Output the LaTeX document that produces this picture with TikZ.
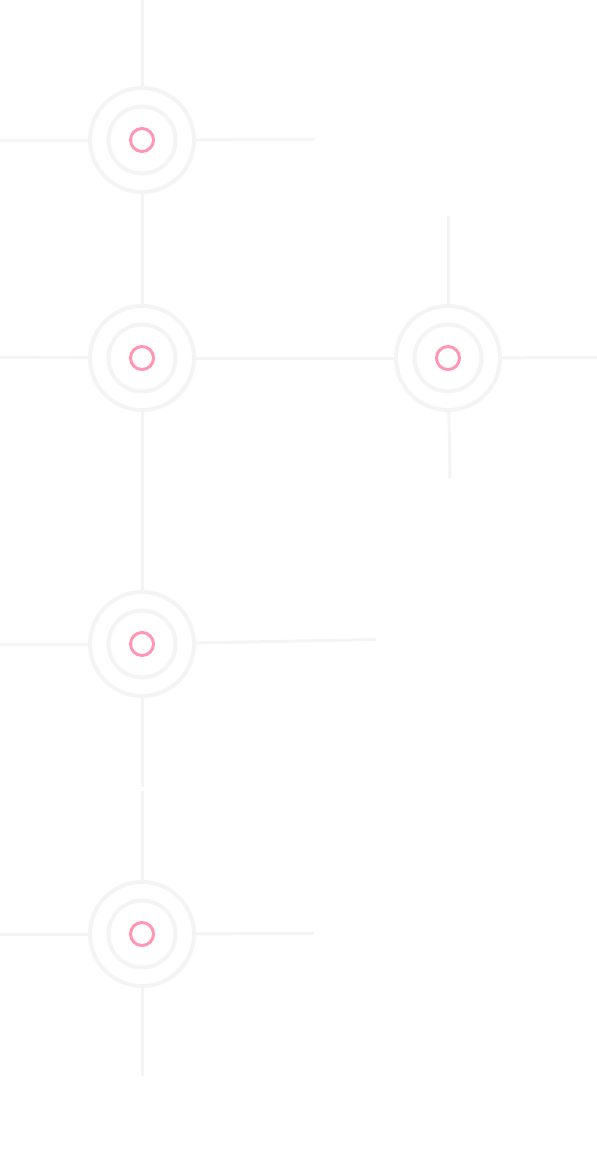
\documentclass[tikz,border=0pt]{standalone}
\usetikzlibrary{arrows,backgrounds}
\definecolor{ringgray}{HTML}{F4F4F4}
\definecolor{dotpink}{HTML}{FF97B4}

\begin{document}
\begin{tikzpicture}[x=1pt,y=-1pt,
        outer/.style={circle,draw=ringgray,line width=4pt,minimum size=104pt,inner sep=0pt},
        middle/.style={circle,draw=ringgray,line width=4pt,minimum size=67pt,inner sep=0pt},
        dot/.style={circle,draw=dotpink,line width=3pt,minimum size=23pt,inner sep=0pt},
        link/.style={line width=3pt,color=ringgray}]
        \useasboundingbox (0,0) rectangle (597,1171);

        \node [outer] (0) at (142,140) {};
        \node [outer] (1) at (142,358) {};
        \node [outer] (2) at (448,358) {};
        \node [outer] (3) at (142,644) {};
        \node [outer] (4) at (142,934) {};

        \node [middle] (0m) at (0) {};
        \node [middle] (1m) at (1) {};
        \node [middle] (2m) at (2) {};
        \node [middle] (3m) at (3) {};
        \node [middle] (4m) at (4) {};

        \node [dot] (0p) at (0) {};
        \node [dot] (1p) at (1) {};
        \node [dot] (2p) at (2) {};
        \node [dot] (3p) at (3) {};
        \node [dot] (4p) at (4) {};

        % loose ends
        \coordinate (0t) at (142,0);
        \coordinate (0l) at (0,140);
        \coordinate (0r) at (314,139.5);
        \coordinate (1l) at (0,357);
        \coordinate (2t) at (448,216);
        \coordinate (2r) at (597,357.5);
        \coordinate (2b) at (450,478);
        \coordinate (3l) at (0,644);
        \coordinate (3r) at (376,639.5);
        \coordinate (3b) at (142,787);
        \coordinate (3c) at (142,791);
        \coordinate (4l) at (0,934);
        \coordinate (4r) at (314,933.5);
        \coordinate (4b) at (142,1076);

        \draw[link] (0t) to (0);
        \draw[link] (0l) to (0);
        \draw[link] (0) to (0r);
        \draw[link] (0) to (1);
        \draw[link] (1l) to (1);
        \draw[link] (1) to (2);
        \draw[link] (1) to (3);
        \draw[link] (2t) to (2);
        \draw[link] (2) to (2r);
        \draw[link] (2) to (2b);
        \draw[link] (3l) to (3);
        \draw[link] (3) to (3r);
        \draw[link] (3) to (3b);
        \draw[link] (3c) to (4);
        \draw[link] (4l) to (4);
        \draw[link] (4) to (4r);
        \draw[link] (4) to (4b);
\end{tikzpicture}
\end{document}
